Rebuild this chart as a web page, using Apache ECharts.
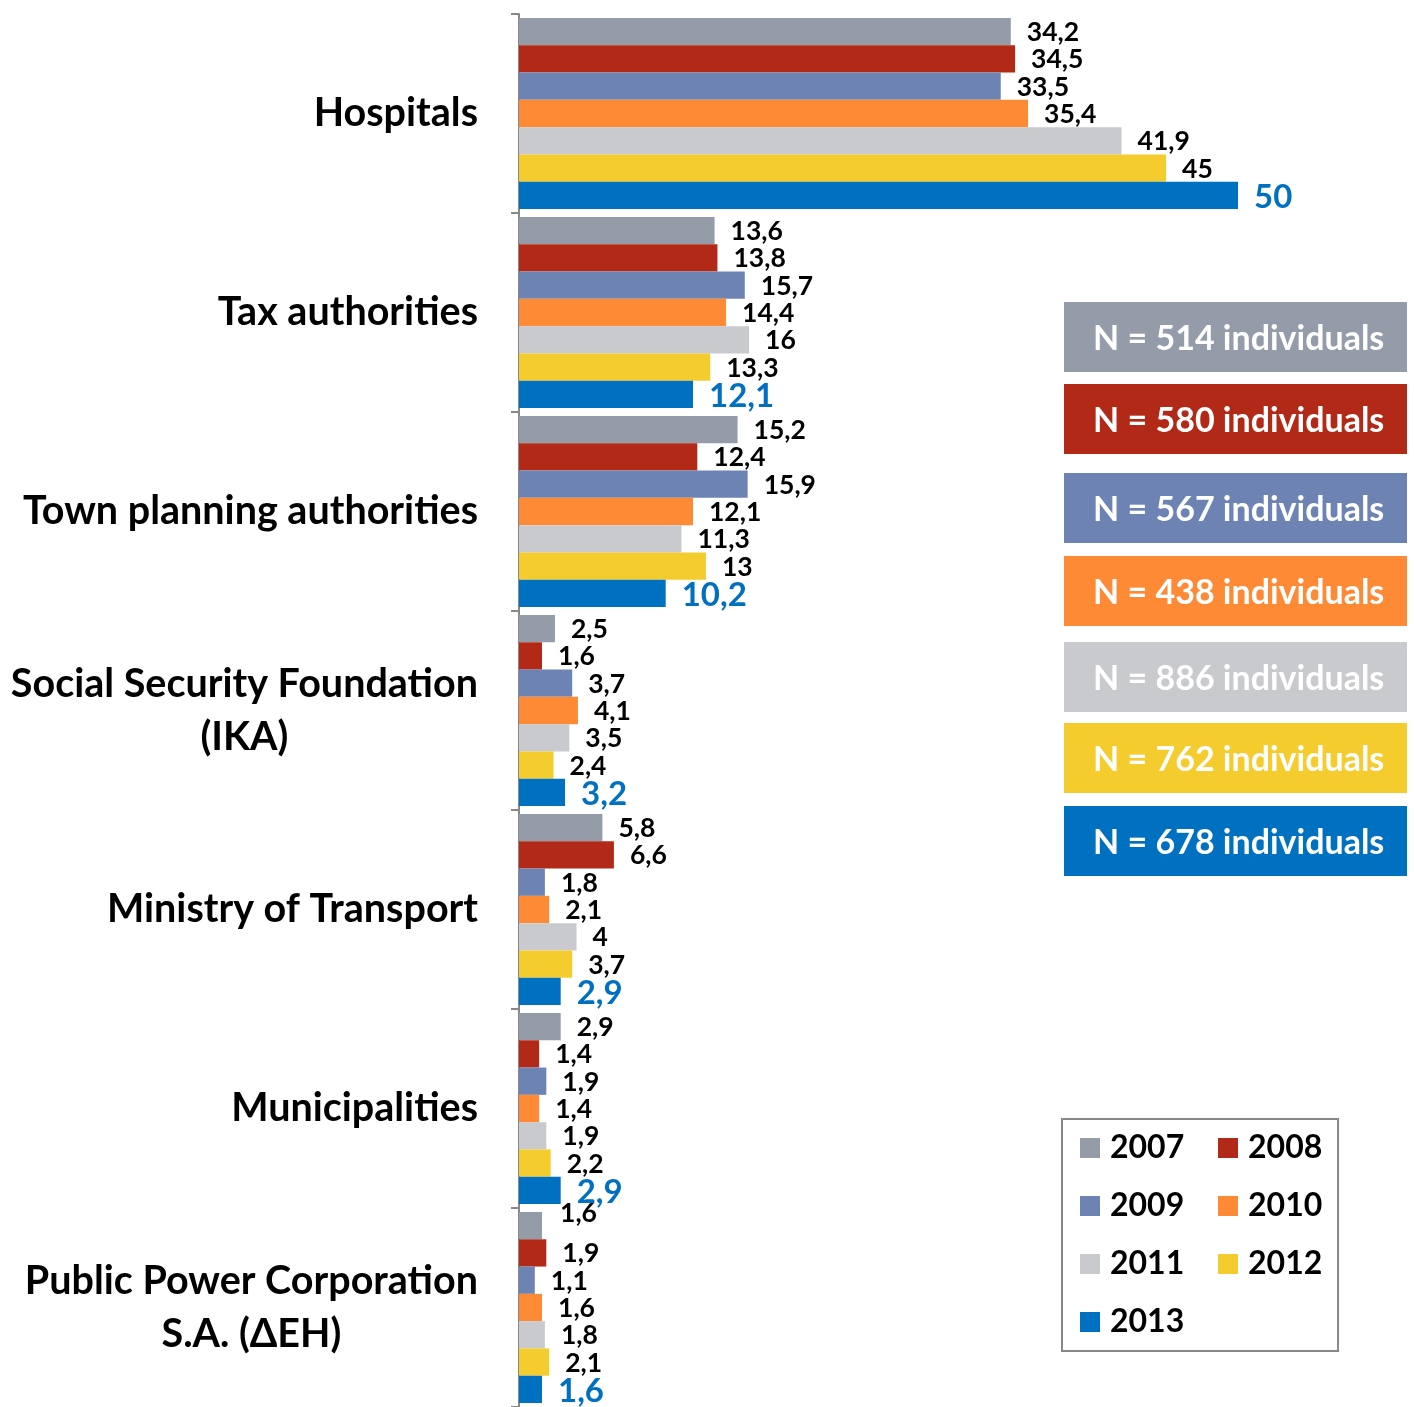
<!DOCTYPE html>
<html>
<head>
<meta charset="utf-8">
<script src="https://cdn.jsdelivr.net/npm/echarts@6/dist/echarts.min.js"></script>
<style>
html,body{margin:0;padding:0;background:#fff;}
#chart{width:1414px;height:1407px;}
</style>
</head>
<body>
<div id="chart"></div>
<script>
const categories = [
  'Hospitals',
  'Tax authorities',
  'Town planning authorities',
  'Social Security Foundation\n(IKA)',
  'Ministry of Transport',
  'Municipalities',
  'Public Power Corporation\nS.A. (ΔΕΗ)'
];
const years = ['2007','2008','2009','2010','2011','2012','2013'];
const v2007 = [34.2, 13.6, 15.2, 2.5, 5.8, 2.9, 1.6];
const v2008 = [34.5, 13.8, 12.4, 1.6, 6.6, 1.4, 1.9];
const v2009 = [33.5, 15.7, 15.9, 3.7, 1.8, 1.9, 1.1];
const v2010 = [35.4, 14.4, 12.1, 4.1, 2.1, 1.4, 1.6];
const v2011 = [41.9, 16.0, 11.3, 3.5, 4.0, 1.9, 1.8];
const v2012 = [45.0, 13.3, 13.0, 2.4, 3.7, 2.2, 2.1];
const v2013 = [50.0, 12.1, 10.2, 3.2, 2.9, 2.9, 1.6];
const sampleSizes = [514, 580, 567, 438, 886, 762, 678];

const seriesValues = [v2007, v2008, v2009, v2010, v2011, v2012, v2013];
const colors = ['#959CA9', '#B22A17', '#6D83B3', '#FF8A36', '#C9CACE', '#F5CC2E', '#0070C0'];
const boxTops = [302, 384, 473, 556, 642, 723, 806];
const FONT = 'Lato';

const fmt = v => String(v).replace('.', ',');

const series = years.map((y, i) => {
  const last = i === years.length - 1;
  return {
    name: y,
    type: 'bar',
    barGap: '0%',
    barCategoryGap: '4%',
    itemStyle: { color: colors[i] },
    data: seriesValues[i].map((v, ci) => {
      // Excel's manually nudged label (Public Power Corp., 2007)
      if (i === 0 && ci === 6) return { value: v, label: { offset: [2, -12] } };
      return v;
    }),
    label: {
      show: true,
      position: 'right',
      distance: 16,
      offset: [0, last ? 2 : 1],
      formatter: p => fmt(p.value),
      fontFamily: FONT,
      fontWeight: 'bold',
      fontSize: last ? 33 : 26.5,
      color: last ? '#0070C0' : '#000'
    }
  };
});

const graphics = [];
sampleSizes.forEach((n, i) => {
  graphics.push({
    type: 'rect',
    left: 1064, top: boxTops[i],
    shape: { width: 343, height: 70 },
    style: { fill: colors[i] }
  });
  graphics.push({
    type: 'text',
    x: 1093, y: boxTops[i] + 37,
    style: {
      text: 'N = ' + n + ' individuals',
      fill: '#fff',
      font: 'bold 34px ' + FONT,
      verticalAlign: 'middle',
      align: 'left'
    }
  });
});

const chart = echarts.init(document.getElementById('chart'));
chart.setOption({
  backgroundColor: '#fff',
  animation: false,
  grid: { left: 519, top: 14, bottom: 0, right: 176, containLabel: false },
  xAxis: { type: 'value', min: 0, max: 50, show: false },
  yAxis: {
    type: 'category',
    inverse: true,
    data: categories,
    axisLine: { show: true, lineStyle: { color: '#888', width: 2 } },
    axisTick: { show: true, length: 8, lineStyle: { color: '#888', width: 2 } },
    axisLabel: {
      margin: 41,
      formatter: v => v.split('\n').map(s => '{a|' + s + '}').join('\n'),
      rich: {
        a: {
          fontFamily: FONT, fontWeight: 'bold', fontSize: 39.5,
          color: '#000', align: 'center', lineHeight: 53
        }
      }
    }
  },
  legend: {
    left: 1062, top: 1119,
    width: 260,
    orient: 'horizontal',
    padding: [13, 8, 13, 18],
    itemGap: 26,
    itemWidth: 20, itemHeight: 20,
    borderColor: '#888', borderWidth: 2,
    icon: 'rect',
    formatter: name => name + ' ',
    textStyle: { fontFamily: FONT, fontWeight: 'bold', fontSize: 32, color: '#000', padding: [0, 0, 0, 5] },
    data: years
  },
  graphic: graphics,
  series: series
});
</script>
</body>
</html>
